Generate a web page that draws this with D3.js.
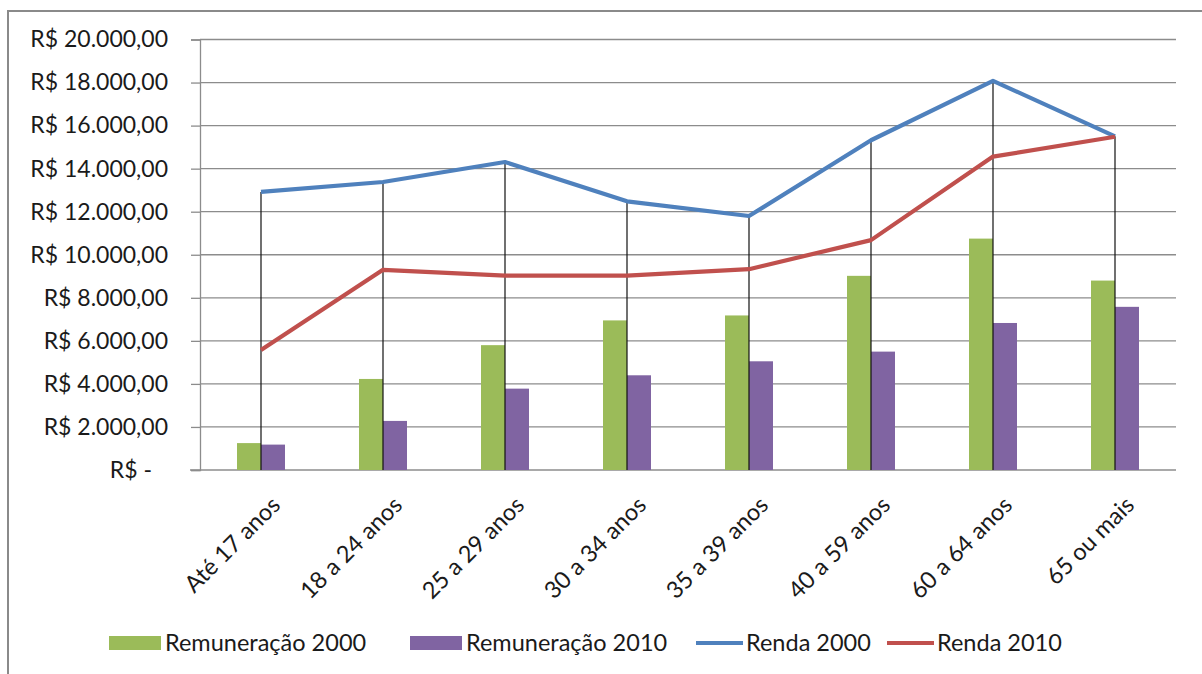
<!DOCTYPE html>
<html>
<head>
<meta charset="utf-8">
<script src="https://cdn.jsdelivr.net/npm/d3@7"></script>
<style>
  html, body { margin: 0; padding: 0; background: #fff; }
  svg { display: block; }
  text { font-family: "Lato", "Open Sans", sans-serif; fill: #1a1a1a; }
</style>
</head>
<body>
<svg id="chart" width="1202" height="674"></svg>
<script>
// Age groups on the category axis
const categories = ["Até 17 anos", "18 a 24 anos", "25 a 29 anos", "30 a 34 anos",
                    "35 a 39 anos", "40 a 59 anos", "60 a 64 anos", "65 ou mais"];

// Bar series (R$)
const remuneracao2000 = [1250, 4230, 5800, 6950, 7180, 9020, 10750, 8800];
const remuneracao2010 = [1180, 2280, 3780, 4400, 5050, 5500, 6830, 7580];

// Line series (R$)
const renda2000 = [12920, 13380, 14310, 12480, 11800, 15320, 18080, 15500];
const renda2010 = [5570, 9300, 9030, 9030, 9330, 10680, 14560, 15480];

// Value axis ticks
const yTicks = [0, 2000, 4000, 6000, 8000, 10000, 12000, 14000, 16000, 18000, 20000];

const series = [
  { name: "Remuneração 2000", type: "bar",  values: remuneracao2000, color: "#9BBB59" },
  { name: "Remuneração 2010", type: "bar",  values: remuneracao2010, color: "#8064A2" },
  { name: "Renda 2000",       type: "line", values: renda2000,       color: "#4F81BD" },
  { name: "Renda 2010",       type: "line", values: renda2010,       color: "#C0504D" }
];

const svg = d3.select("#chart");
const plot = { left: 200, right: 1176, top: 39.5, bottom: 470 };

// Outer chart frame
svg.append("rect")
  .attr("x", 8).attr("y", 11)
  .attr("width", 1240).attr("height", 720)
  .attr("fill", "none").attr("stroke", "#8a8a8a").attr("stroke-width", 2);

const x = d3.scaleBand().domain(categories).range([plot.left, plot.right]);
const y = d3.scaleLinear().domain([0, 20000]).range([plot.bottom, plot.top]);
const cx = c => x(c) + x.bandwidth() / 2;

// Brazilian currency formatting
const ptFormat = d3.formatLocale({ decimal: ",", thousands: ".", grouping: [3], currency: ["R$ ", ""] });
const money = ptFormat.format(",.2f");
const tickLabel = d => d === 0 ? "R$ -" : "R$ " + money(d);

// Horizontal gridlines
svg.append("g")
  .selectAll("line")
  .data(yTicks.filter(d => d > 0))
  .join("line")
  .attr("x1", plot.left).attr("x2", plot.right)
  .attr("y1", d => y(d)).attr("y2", d => y(d))
  .attr("stroke", "#8c8c8c").attr("stroke-width", 1.3);

// Value axis
const yAxis = svg.append("g")
  .attr("transform", `translate(${plot.left},0)`)
  .call(d3.axisLeft(y).tickValues(yTicks).tickFormat(tickLabel).tickSize(9).tickPadding(23));
yAxis.select(".domain").attr("stroke", "#8c8c8c").attr("stroke-width", 1.3);
yAxis.selectAll(".tick line").attr("stroke", "#8c8c8c").attr("stroke-width", 1.3);
yAxis.selectAll(".tick text")
  .style("font-family", "Lato, 'Open Sans', sans-serif")
  .style("font-size", "23px")
  .attr("fill", "#1a1a1a")
  .attr("dx", d => d === 0 ? -16 : 0);

// Category axis baseline
svg.append("line")
  .attr("x1", plot.left - 10).attr("x2", plot.right)
  .attr("y1", plot.bottom).attr("y2", plot.bottom)
  .attr("stroke", "#8c8c8c").attr("stroke-width", 1.3);

// Clustered bars
const barW = 24;
const bars = series.filter(s => s.type === "bar");
bars.forEach((s, i) => {
  svg.append("g")
    .selectAll("rect")
    .data(s.values)
    .join("rect")
    .attr("x", (d, j) => cx(categories[j]) - barW + i * barW)
    .attr("width", barW)
    .attr("y", d => y(d))
    .attr("height", d => y(0) - y(d))
    .attr("fill", s.color);
});

// Drop lines from the highest line point down to the axis
const lines = series.filter(s => s.type === "line");
svg.append("g")
  .selectAll("line")
  .data(categories)
  .join("line")
  .attr("x1", c => cx(c)).attr("x2", c => cx(c))
  .attr("y1", (c, j) => y(d3.max(lines, s => s.values[j])))
  .attr("y2", y(0))
  .attr("stroke", "#111").attr("stroke-width", 1.2);

// Line series
const lineGen = d3.line().x((d, j) => cx(categories[j])).y(d => y(d));
lines.forEach(s => {
  svg.append("path")
    .datum(s.values)
    .attr("d", lineGen)
    .attr("fill", "none")
    .attr("stroke", s.color)
    .attr("stroke-width", 4.2)
    .attr("stroke-linejoin", "round");
});

// Rotated category labels
svg.append("g")
  .selectAll("text")
  .data(categories)
  .join("text")
  .attr("transform", c => `translate(${cx(c) + 9},${plot.bottom + 25}) rotate(-45)`)
  .attr("text-anchor", "end")
  .attr("dy", "0.7em")
  .style("font-size", "23.5px")
  .text(c => c);

// Legend
const legendItems = [
  { s: series[0], x: 109 },
  { s: series[1], x: 410 },
  { s: series[2], x: 696 },
  { s: series[3], x: 887 }
];
const legendY = 643;
const lg = svg.append("g");
legendItems.forEach(item => {
  if (item.s.type === "bar") {
    lg.append("rect")
      .attr("x", item.x).attr("y", legendY - 7)
      .attr("width", 52).attr("height", 14)
      .attr("fill", item.s.color);
  } else {
    lg.append("line")
      .attr("x1", item.x).attr("x2", item.x + 47)
      .attr("y1", legendY).attr("y2", legendY)
      .attr("stroke", item.s.color).attr("stroke-width", 4);
  }
  lg.append("text")
    .attr("x", item.x + (item.s.type === "bar" ? 56 : 50))
    .attr("y", legendY)
    .attr("dy", "0.35em")
    .style("font-size", "23.5px")
    .text(item.s.name);
});
</script>
</body>
</html>
